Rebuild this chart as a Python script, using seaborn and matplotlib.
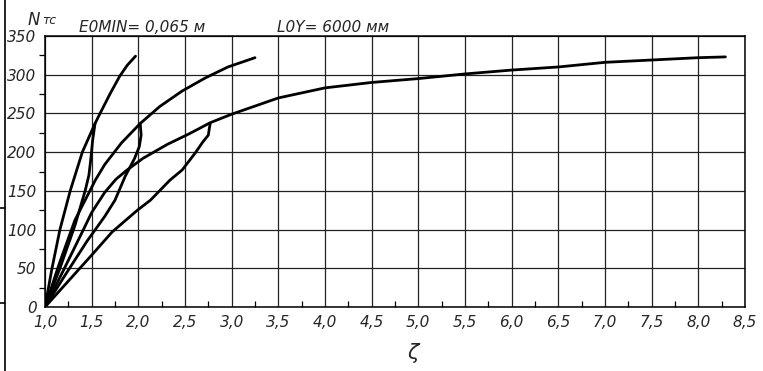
import matplotlib

matplotlib.use('Agg')
import matplotlib.pyplot as plt
from matplotlib.lines import Line2D
from matplotlib.ticker import MultipleLocator
import pandas as pd
import seaborn as sns

# curve A (steep) - loading branch and return branch
a_load_x = [1.0, 1.075, 1.16, 1.27, 1.40, 1.536, 1.59, 1.70, 1.80, 1.88, 1.97]
a_load_y = [0, 50, 100, 150, 200, 237, 250, 276, 298, 312, 324]
a_back_x = [1.536, 1.51, 1.49, 1.47, 1.43, 1.32, 1.16, 1.0]
a_back_y = [237, 215, 190, 170, 150, 105, 50, 0]

# curve B (middle)
b_load_x = [1.0, 1.15, 1.32, 1.54, 1.64, 1.82, 2.02, 2.23, 2.47, 2.72, 2.96, 3.25]
b_load_y = [0, 55, 112, 164, 184, 212, 237, 259, 279, 296, 310, 322]
b_back_x = [2.02, 2.03, 2.01, 1.96, 1.86, 1.75, 1.64, 1.45, 1.22, 1.0]
b_back_y = [237, 222, 207, 192, 169, 138, 117, 85, 42, 0]

# curve C (long one)
c_load_x = [1.0, 1.2, 1.42, 1.5, 1.64, 1.76, 1.88, 2.05, 2.31, 2.55, 2.77, 3.0, 3.5, 4.0,
            4.5, 5.0, 5.5, 6.0, 6.5, 7.0, 7.5, 8.0, 8.29]
c_load_y = [0, 48, 102, 122, 148, 165, 177, 192, 210, 224, 238, 249, 270, 283,
            290, 295, 301, 306, 310, 316, 319, 322, 323]
c_back_x = [2.77, 2.76, 2.75, 2.69, 2.61, 2.47, 2.34, 2.13, 1.99, 1.72, 1.5, 1.0]
c_back_y = [237, 230, 222, 213, 199, 177, 164, 138, 125, 97, 67, 0]

x_ticks = [1.0, 1.5, 2.0, 2.5, 3.0, 3.5, 4.0, 4.5, 5.0, 5.5, 6.0, 6.5, 7.0, 7.5, 8.0, 8.5]
x_labels = ['1,0', '1,5', '2,0', '2,5', '3,0', '3,5', '4,0', '4,5', '5,0',
            '5,5', '6,0', '6,5', '7,0', '7,5', '8,0', '8,5']
y_ticks = [0, 50, 100, 150, 200, 250, 300, 350]
y_labels = ['0', '50', '100', '150', '200', '250', '300', '350']

curves = {
    'A1': (a_load_x, a_load_y), 'A2': (a_back_x, a_back_y),
    'B1': (b_load_x, b_load_y), 'B2': (b_back_x, b_back_y),
    'C1': (c_load_x, c_load_y), 'C2': (c_back_x, c_back_y),
}
frames = []
for name, (xs, ys) in curves.items():
    frames.append(pd.DataFrame({'zeta': xs, 'N': ys, 'curve': name}))
df = pd.concat(frames, ignore_index=True)

sns.set_style('white')
plt.rcParams['font.family'] = ['DejaVu Sans']

fig = plt.figure(figsize=(7.63, 3.71), dpi=100)
ax = fig.add_axes([45 / 763, 1 - 307 / 371, 700 / 763, 271 / 371])

sns.lineplot(data=df, x='zeta', y='N', units='curve', estimator=None, sort=False,
             color='black', linewidth=2.0, ax=ax, legend=False)

ax.set_xlim(1.0, 8.5)
ax.set_ylim(0, 350)
ax.set_xticks(x_ticks, labels=x_labels)
ax.set_yticks(y_ticks, labels=y_labels)
ax.xaxis.set_minor_locator(MultipleLocator(0.25))
ax.yaxis.set_minor_locator(MultipleLocator(25))
ax.grid(True, which='major', color='#222222', linewidth=0.9)
ax.tick_params(which='major', length=0, labelsize=11, pad=6)
ax.tick_params(axis='x', which='minor', bottom=True, direction='in', length=4, width=0.9, color='black')
ax.tick_params(axis='y', which='minor', left=True, direction='out', length=4, width=0.9, color='black')
for lab in ax.get_xticklabels() + ax.get_yticklabels():
    lab.set_style('italic')
for sp in ax.spines.values():
    sp.set_visible(True)
    sp.set_color('black')
    sp.set_linewidth(1.1)
ax.set_xlabel('')
ax.set_ylabel('')

fig.text(28 / 763, 1 - 20 / 371, 'N', fontsize=12, style='italic', va='center')
fig.text(42 / 763, 1 - 21 / 371, 'тс', fontsize=9, style='italic', va='center')
fig.text(79 / 763, 1 - 28 / 371, 'E0MIN= 0,065 м', fontsize=11, style='italic', va='center')
fig.text(277 / 763, 1 - 28 / 371, 'L0Y= 6000 мм', fontsize=11, style='italic', va='center')
fig.text(413 / 763, 1 - 353 / 371, 'ζ', fontsize=15, style='italic', ha='center', va='center')

# scan border on the left
fig.add_artist(Line2D([5 / 763, 5 / 763], [0, 1], color='black', linewidth=1.2))
for yy in [208, 303]:
    fig.add_artist(Line2D([0, 5 / 763], [1 - yy / 371, 1 - yy / 371], color='black', linewidth=1.2))

plt.savefig('out.png', dpi=100)
plt.close()
